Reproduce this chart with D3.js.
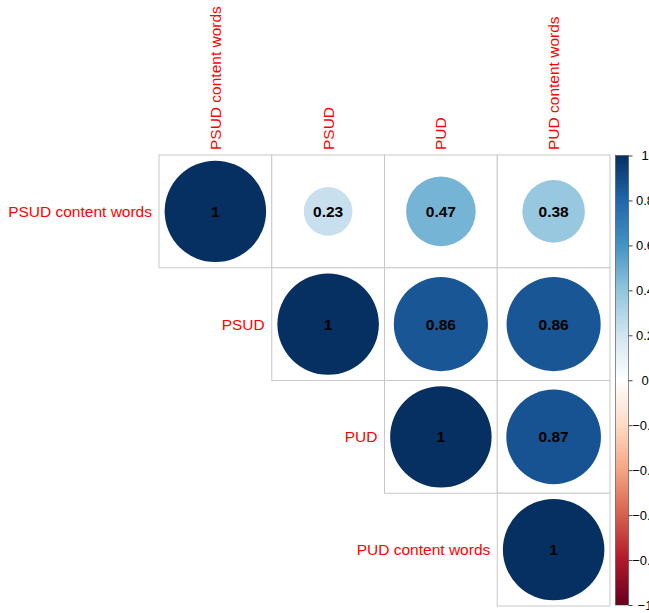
<!DOCTYPE html>
<html>
<head>
<meta charset="utf-8">
<script src="https://cdn.jsdelivr.net/npm/d3@7"></script>
<style>
  body { margin: 0; background: #fff; }
  svg { font-family: "Liberation Sans", Arial, sans-serif; }
</style>
</head>
<body>
<svg id="chart" width="649" height="613"></svg>
<script>
// Variables (rows = columns)
const vars = ["PSUD content words", "PSUD", "PUD", "PUD content words"];

// Upper triangle correlation values, row by row
const corrRows = [
  [1, 0.23, 0.47, 0.38],
  [null, 1, 0.86, 0.86],
  [null, null, 1, 0.87],
  [null, null, null, 1]
];

const legendTicks = [1, 0.8, 0.6, 0.4, 0.2, 0, -0.2, -0.4, -0.6, -0.8, -1];

// corrplot RdBu palette
const palette = ["#67001F", "#B2182B", "#D6604D", "#F4A582", "#FDDBC7", "#FFFFFF",
                 "#D1E5F0", "#92C5DE", "#4393C3", "#2166AC", "#053061"];

const svg = d3.select("#chart");

const color = d3.scaleLinear()
  .domain(d3.range(palette.length).map(i => -1 + i * 2 / (palette.length - 1)))
  .range(palette);

const x = d3.scaleBand().domain(vars).range([159, 610]);
const y = d3.scaleBand().domain(vars).range([155, 606]);
const cell = x.bandwidth();

// flatten cells
const cells = [];
corrRows.forEach((row, i) => {
  row.forEach((v, j) => {
    if (v !== null) cells.push({ row: vars[i], col: vars[j], value: v });
  });
});

// grid squares
svg.selectAll("rect.cell")
  .data(cells)
  .enter()
  .append("rect")
  .attr("class", "cell")
  .attr("x", d => x(d.col))
  .attr("y", d => y(d.row))
  .attr("width", cell)
  .attr("height", cell)
  .attr("fill", "white")
  .attr("stroke", "#c8c8c8")
  .attr("stroke-width", 1);

// circles, area proportional to |r|
const rMax = cell * 0.45;
svg.selectAll("circle.corr")
  .data(cells)
  .enter()
  .append("circle")
  .attr("class", "corr")
  .attr("cx", d => x(d.col) + cell / 2)
  .attr("cy", d => y(d.row) + cell / 2)
  .attr("r", d => rMax * Math.sqrt(Math.abs(d.value)))
  .attr("fill", d => color(d.value));

// numbers
svg.selectAll("text.num")
  .data(cells)
  .enter()
  .append("text")
  .attr("class", "num")
  .attr("x", d => x(d.col) + cell / 2)
  .attr("y", d => y(d.row) + cell / 2)
  .attr("dy", "0.35em")
  .attr("text-anchor", "middle")
  .attr("font-size", 15.5)
  .attr("font-weight", "bold")
  .attr("fill", "black")
  .text(d => d3.format("~g")(d.value));

// row labels, placed left of the diagonal cell
svg.selectAll("text.rowlab")
  .data(vars)
  .enter()
  .append("text")
  .attr("class", "rowlab")
  .attr("x", d => x(d) - 7)
  .attr("y", d => y(d) + cell / 2)
  .attr("dy", "0.35em")
  .attr("text-anchor", "end")
  .attr("font-size", 15.5)
  .attr("fill", "red")
  .text(d => d);

// column labels, rotated
svg.selectAll("text.collab")
  .data(vars)
  .enter()
  .append("text")
  .attr("class", "collab")
  .attr("transform", d => `translate(${x(d) + cell / 2},${y.range()[0] - 5}) rotate(-90)`)
  .attr("dy", "0.35em")
  .attr("text-anchor", "start")
  .attr("font-size", 15.5)
  .attr("fill", "red")
  .text(d => d);

// colour legend
const lg = d3.scaleLinear().domain([1, -1]).range([155.5, 605]);
const defs = svg.append("defs");
const grad = defs.append("linearGradient")
  .attr("id", "cbar")
  .attr("x1", 0).attr("y1", 0).attr("x2", 0).attr("y2", 1);
palette.slice().reverse().forEach((c, i) => {
  grad.append("stop")
    .attr("offset", (i / (palette.length - 1) * 100) + "%")
    .attr("stop-color", c);
});

svg.append("rect")
  .attr("x", 615.5)
  .attr("y", lg(1))
  .attr("width", 13)
  .attr("height", lg(-1) - lg(1))
  .attr("fill", "url(#cbar)")
  .attr("stroke", "#444")
  .attr("stroke-width", 0.6);

const axis = d3.axisRight(lg)
  .tickValues(legendTicks)
  .tickSize(4)
  .tickFormat(d => d === 0 ? "0" : d3.format("~g")(d).replace("-", "\u2212"));

const ax = svg.append("g")
  .attr("transform", "translate(628.5,0)")
  .call(axis);
ax.select(".domain").remove();
ax.selectAll(".tick line").attr("stroke", "#444");
ax.selectAll(".tick text")
  .attr("font-size", 13)
  .attr("font-family", "Liberation Sans, Arial, sans-serif")
  .attr("fill", "black")
  .attr("text-anchor", "middle")
  .attr("x", 16.5);
</script>
</body>
</html>
